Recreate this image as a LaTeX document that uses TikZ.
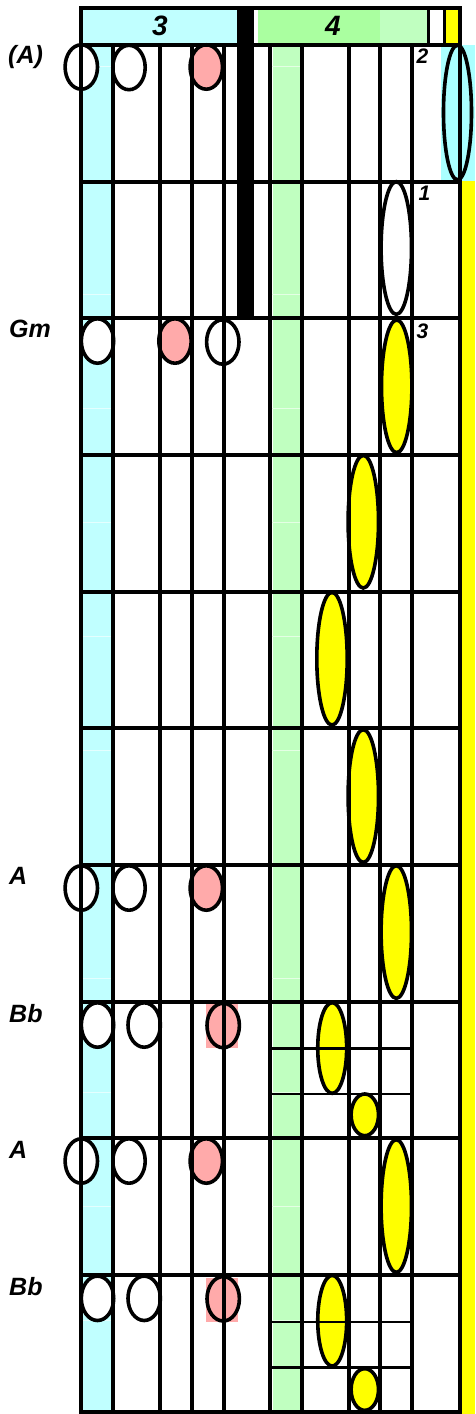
\documentclass[tikz,border=0pt]{standalone}
\usepackage{fontspec}
\setmainfont{Liberation Sans}
\usetikzlibrary{shapes.geometric}
\definecolor{cyb}{HTML}{C0FFFF}
\definecolor{grb}{HTML}{C0FFC0}
\definecolor{hgr}{HTML}{AAFFA0}
\definecolor{pk}{HTML}{FFAAAA}
\definecolor{yel}{HTML}{FFFF00}
\definecolor{bigcy}{HTML}{AAFFFF}
\definecolor{tickcy}{HTML}{E4FFFF}
\definecolor{tickgr}{HTML}{E4FFE4}
\begin{document}
\begin{tikzpicture}[x=1pt,y=-1pt,
  gline/.style={line width=4pt},
  subline/.style={line width=2.6pt},
  ov/.style={ellipse, draw, line width=3.6pt, inner sep=0pt, outer sep=0pt},
  smallov/.style={ov, minimum width=32.4pt, minimum height=44.4pt},
  tallov/.style={ov, minimum width=30.4pt, minimum height=132.7pt},
  medov/.style={ov, minimum width=28.9pt, minimum height=90.7pt},
  tinyov/.style={ov, minimum width=27.4pt, minimum height=41.7pt},
  lbl/.style={font=\fontsize{25}{30}\selectfont\bfseries\itshape, inner sep=0pt, anchor=base west},
  hdr/.style={font=\fontsize{28}{32}\selectfont\bfseries\itshape, inner sep=0pt, anchor=base},
  num/.style={font=\fontsize{21}{24}\selectfont\bfseries\itshape, inner sep=0pt, anchor=base west}
]
\useasboundingbox (0,0) rectangle (475,1414);

% ---- bands
\fill[cyb] (83,45) rectangle (111,1412);
\fill[grb] (273,45) rectangle (300,1412);
\fill[yel] (461.5,181) rectangle (475,1414);
\fill[bigcy] (441,45) rectangle (475,181);

% ---- faint ticks
\foreach \k in {0,...,11}{
  \pgfmathsetmacro\ty{66.7+114*\k}
  \draw[line width=1pt, tickcy] (79,\ty) -- (111,\ty);
  \draw[line width=1pt, tickgr] (268,\ty) -- (301,\ty);
}

% ---- header fills
\fill[cyb] (81,8) rectangle (237,45);
\fill[hgr] (258,8) rectangle (380,45);
\fill[grb] (380,8) rectangle (427,45);
\fill[yel] (446,8) rectangle (457.5,45);
\fill (237,8) rectangle (254,319.3);
\fill (426.5,8) rectangle (430.2,45);
\fill (442.7,8) rectangle (446,45);

% ---- pink rectangles behind Bb notes
\fill[pk] (205.7,1004) rectangle (237.7,1047.7);
\fill[pk] (205.7,1278) rectangle (237.7,1321.7);

% ---- row 1 (A)
\node[smallov, fill=white] (a1) at (81.3,67) {};
\node[smallov, fill=white] (a2) at (129,67.5) {};
\node[smallov, fill=pk] (a3) at (206.3,67) {};
\node[ov, fill=bigcy, minimum width=28pt, minimum height=134.7pt] (a4) at (457.5,112.5) {};
% ---- row 2
\node[tallov, fill=white] (b1) at (396.3,248) {};
% ---- row 3 (Gm)
\node[smallov, fill=white] (c1) at (97.5,341) {};
\node[smallov, fill=pk] (c2) at (175,341) {};
\node[smallov, fill=white] (c3) at (222.8,342) {};
\node[tallov, fill=yel] (c4) at (396.7,386.3) {};
% ---- rows 4-6
\node[tallov, fill=yel] (d1) at (363.3,521.7) {};
\node[tallov, fill=yel] (e1) at (332,658.7) {};
\node[tallov, fill=yel] (f1) at (363.3,796) {};
% ---- row 7 (A)
\node[smallov, fill=white] (g1) at (81.3,888) {};
\node[smallov, fill=white] (g2) at (129,888) {};
\node[smallov, fill=pk] (g3) at (206.3,888) {};
\node[tallov, fill=yel] (g4) at (396.3,932) {};
% ---- row 8 (Bb)
\node[smallov, fill=white] (h1) at (97.5,1025) {};
\node[smallov, fill=white] (h2) at (144.2,1025) {};
\node[smallov, fill=pk] (h3) at (223.2,1025.5) {};
\node[medov, fill=yel] (h4) at (332.2,1048) {};
\node[tinyov, fill=yel] (h5) at (364.8,1114.8) {};
% ---- row 9 (A)
\node[smallov, fill=white] (i1) at (81.3,1161) {};
\node[smallov, fill=white] (i2) at (129,1161) {};
\node[smallov, fill=pk] (i3) at (206.3,1161) {};
\node[tallov, fill=yel] (i4) at (396.3,1206) {};
% ---- row 10 (Bb)
\node[smallov, fill=white] (j1) at (97.5,1298.3) {};
\node[smallov, fill=white] (j2) at (144.2,1298.3) {};
\node[smallov, fill=pk] (j3) at (223.2,1298.8) {};
\node[medov, fill=yel] (j4) at (332.2,1320.7) {};
\node[tinyov, fill=yel] (j5) at (364.8,1389.5) {};

% ---- grid
\draw[gline] (79,8) -- (461.5,8);
\foreach \k in {0,...,10}{
  \pgfmathsetmacro\gy{45+136.65*\k}
  \draw[gline] (79,\gy) -- (461.5,\gy);
}
\draw[gline] (81,6) -- (81,1413.5);
\draw[gline] (459.5,6) -- (459.5,1413.5);
\foreach \gx in {112.7,160.3,192.3,223.7,270,301.7,349.3,380.3,412}{
  \draw[gline] (\gx,45) -- (\gx,1411.5);
}
\draw[subline] (270,1048.6) -- (412,1048.6);
\draw[subline] (270,1094.1) -- (412,1094.1);
\draw[subline] (270,1322) -- (412,1322);
\draw[subline] (270,1367.5) -- (412,1367.5);

% ---- header labels
\node[hdr] (h3lbl) at (160,35) {3};
\node[hdr] (h4lbl) at (333,35) {4};

% ---- small numbers
\node[num] (n2) at (416.5,63.5) {2};
\node[num] (n1) at (418.5,200.9) {1};
\node[num] (n3) at (416.5,338.2) {3};

% ---- row labels
\node[lbl] (l1) at (8,63.5) {(A)};
\node[lbl] (l2) at (9,337.8) {Gm};
\node[lbl] (l3) at (9,884.7) {A};
\node[lbl] (l4) at (9,1022) {Bb};
\node[lbl] (l5) at (9,1158.5) {A};
\node[lbl] (l6) at (9,1295.4) {Bb};
\end{tikzpicture}
\end{document}
